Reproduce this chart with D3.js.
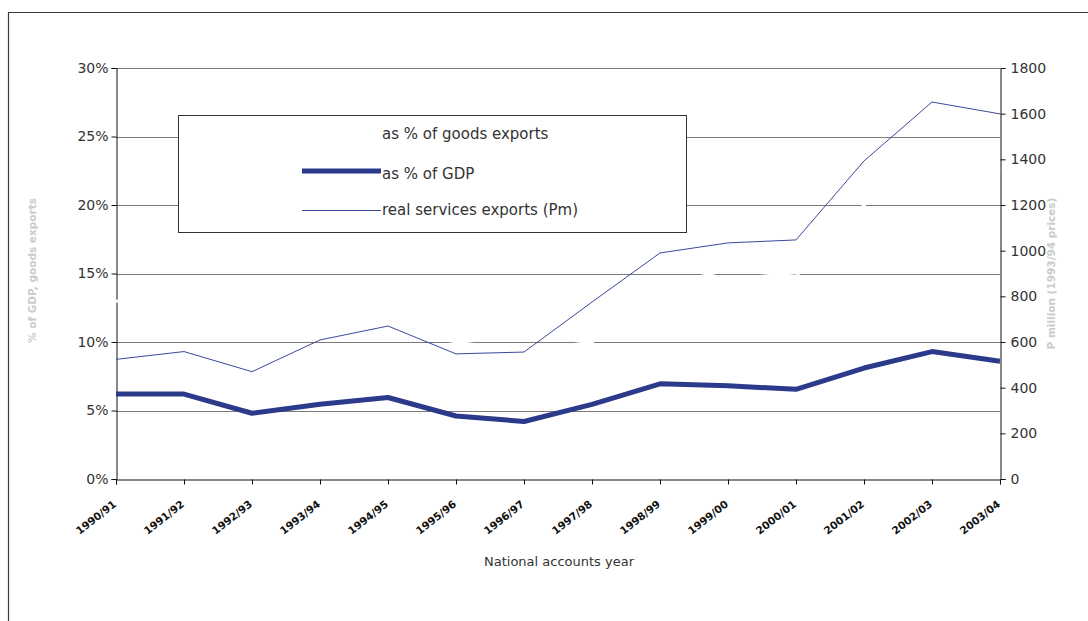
<!DOCTYPE html>
<html>
<head>
<meta charset="utf-8">
<script src="https://cdn.jsdelivr.net/npm/d3@7/dist/d3.min.js"></script>
<style>
  html, body { margin: 0; padding: 0; background: #fff; }
  svg { display: block; font-family: "DejaVu Sans", sans-serif; }
</style>
</head>
<body>
<svg id="chart" width="1088" height="621"></svg>
<script>
// National accounts years
const years = ["1990/91", "1991/92", "1992/93", "1993/94", "1994/95", "1995/96", "1996/97",
               "1997/98", "1998/99", "1999/00", "2000/01", "2001/02", "2002/03", "2003/04"];

// Services exports as % of goods exports (left axis)
const pctGoodsExports = [13.0, 12.5, 10.5, 11.5, 11.0, 10.0, 9.3, 10.0, 14.0, 15.3, 14.8, 20.0, 24.0, 22.5];

// Services exports as % of GDP (left axis)
const pctGDP = [6.2, 6.2, 4.8, 5.45, 5.95, 4.6, 4.2, 5.45, 6.95, 6.8, 6.55, 8.1, 9.3, 8.6];

// Real services exports, P million at 1993/94 prices (right axis)
const realServices = [524, 558, 470, 609, 670, 548, 556, 775, 990, 1034, 1047, 1393, 1651, 1599];

const leftTicks = [0, 5, 10, 15, 20, 25, 30];
const rightTicks = [0, 200, 400, 600, 800, 1000, 1200, 1400, 1600, 1800];

const legendLabels = ["as % of goods exports", "as % of GDP", "real services exports (Pm)"];

const svg = d3.select("#chart");
const plot = { left: 116, right: 1000, top: 68, bottom: 479 };
const navy = "#2b3a8a";
const thinBlue = "#3b4a9c";

// outer frame
svg.append("path")
  .attr("d", "M8.5,621 L8.5,12.5 L1088,12.5")
  .attr("fill", "none").attr("stroke", "#3a3a3a").attr("stroke-width", 1.2);

const x = d3.scalePoint().domain(years).range([plot.left, plot.right]);
const yL = d3.scaleLinear().domain([0, 30]).range([plot.bottom, plot.top]);
const yR = d3.scaleLinear().domain([0, 1800]).range([plot.bottom, plot.top]);

// horizontal gridlines
svg.append("g").selectAll("line").data(leftTicks.slice(1)).join("line")
  .attr("x1", plot.left).attr("x2", plot.right)
  .attr("y1", d => Math.round(yL(d)) + 0.5).attr("y2", d => Math.round(yL(d)) + 0.5)
  .attr("stroke", "#7a7a7a").attr("stroke-width", 1);

// left axis
const gL = svg.append("g").attr("transform", `translate(${plot.left + 0.5},0)`)
  .call(d3.axisLeft(yL).tickValues(leftTicks).tickFormat(d => d + "%").tickSize(5).tickPadding(3));
// right axis
const gR = svg.append("g").attr("transform", `translate(${plot.right + 0.5},0)`)
  .call(d3.axisRight(yR).tickValues(rightTicks).tickFormat(d3.format("d")).tickSize(5).tickPadding(5));
// bottom axis
const gB = svg.append("g").attr("transform", `translate(0,${plot.bottom + 0.5})`)
  .call(d3.axisBottom(x).tickSize(5).tickPadding(4));

[gL, gR, gB].forEach(g => {
  g.select(".domain").attr("stroke", "#111").attr("stroke-width", 1);
  g.selectAll(".tick line").attr("stroke", "#111");
});
gL.selectAll("text").attr("font-size", 14).attr("fill", "#333").attr("font-family", "DejaVu Sans");
gR.selectAll("text").attr("font-size", 14).attr("fill", "#333").attr("font-family", "DejaVu Sans");
gB.selectAll("text")
  .attr("font-size", 10.5).attr("font-weight", "bold").attr("fill", "#111")
  .attr("font-family", "DejaVu Sans")
  .attr("text-anchor", "end")
  .attr("dy", 0)
  .attr("transform", "translate(-5,19) rotate(-38)");

// series lines
const lineL = d3.line().x((d, i) => x(years[i])).y(d => yL(d));
const lineR = d3.line().x((d, i) => x(years[i])).y(d => yR(d));

svg.append("path").datum(pctGoodsExports).attr("d", lineL)
  .attr("fill", "none").attr("stroke", "#ffffff").attr("stroke-width", 3);
svg.append("path").datum(realServices).attr("d", lineR)
  .attr("fill", "none").attr("stroke", thinBlue).attr("stroke-width", 1);
svg.append("path").datum(pctGDP).attr("d", lineL)
  .attr("fill", "none").attr("stroke", navy).attr("stroke-width", 5)
  .attr("stroke-linejoin", "round");

// axis titles
svg.append("text")
  .attr("transform", `translate(36,${(plot.top + plot.bottom) / 2 - 3}) rotate(-90)`)
  .attr("text-anchor", "middle").attr("font-size", 10.5).attr("font-weight", "bold")
  .attr("fill", "#cccccc").text("% of GDP, goods exports");
svg.append("text")
  .attr("transform", `translate(1055,${(plot.top + plot.bottom) / 2}) rotate(-90)`)
  .attr("text-anchor", "middle").attr("font-size", 10.5).attr("font-weight", "bold")
  .attr("fill", "#cccccc").text("P million (1993/94 prices)");
svg.append("text")
  .attr("x", 559).attr("y", 566).attr("text-anchor", "middle")
  .attr("font-size", 13).attr("fill", "#333").text("National accounts year");

// legend
const lg = svg.append("g");
lg.append("rect").attr("x", 178.5).attr("y", 115.5).attr("width", 508).attr("height", 117)
  .attr("fill", "#fff").attr("stroke", "#333").attr("stroke-width", 1);
const legendItems = [
  { label: legendLabels[0], y: 139, lineY: 133, stroke: "#ffffff", width: 3 },
  { label: legendLabels[1], y: 179, lineY: 171, stroke: navy, width: 5 },
  { label: legendLabels[2], y: 215, lineY: 210.5, stroke: thinBlue, width: 1 }
];
legendItems.forEach(it => {
  lg.append("line").attr("x1", 302).attr("x2", 381)
    .attr("y1", it.lineY).attr("y2", it.lineY)
    .attr("stroke", it.stroke).attr("stroke-width", it.width);
  lg.append("text").attr("x", 382).attr("y", it.y)
    .attr("font-size", 15).attr("fill", "#333").text(it.label);
});
</script>
</body>
</html>
